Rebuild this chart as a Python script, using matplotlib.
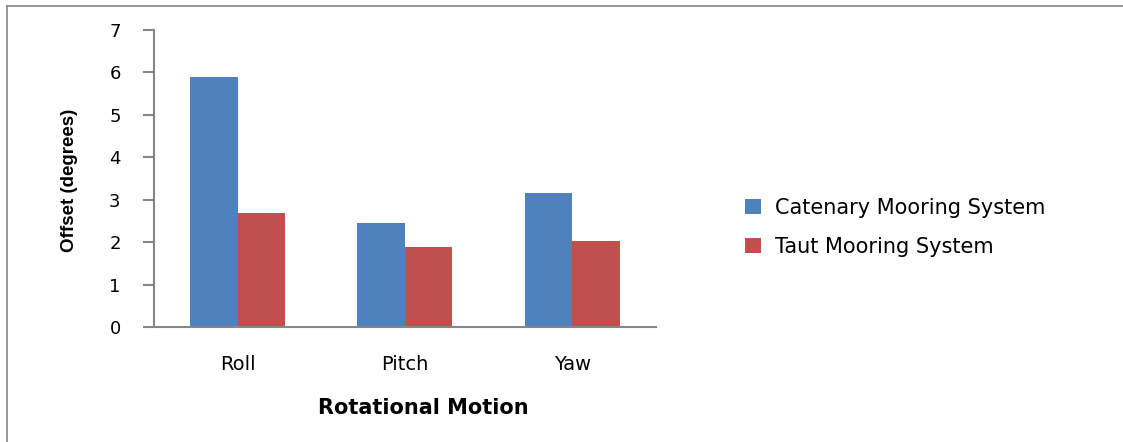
import numpy as np
import matplotlib.pyplot as plt
from matplotlib.lines import Line2D

# Offset values per rotational motion
motions = ['Roll', 'Pitch', 'Yaw']
catenary = [5.90, 2.45, 3.15]
taut = [2.69, 1.88, 2.03]
series_names = ['Catenary Mooring System', 'Taut Mooring System']

BLUE = '#4F81BD'
RED = '#C0504D'
GREY = '#868686'

fig = plt.figure(figsize=(11.23, 4.42), dpi=100)
ax = fig.add_axes([0.1371, 0.2602, 0.447, 0.672])

x = np.arange(len(motions))
w = 0.284
ax.bar(x - w / 2, catenary, w, color=BLUE, label=series_names[0])
ax.bar(x + w / 2, taut, w, color=RED, label=series_names[1])

ax.set_xlim(-0.5, 2.5)
ax.set_ylim(0, 7)
ax.set_yticks(range(0, 8))
ax.set_xticks(x)
ax.set_xticklabels(motions)

for side in ['top', 'right']:
    ax.spines[side].set_visible(False)
for side in ['left', 'bottom']:
    ax.spines[side].set_color(GREY)
    ax.spines[side].set_linewidth(1.5)

ax.tick_params(axis='y', direction='out', length=8, width=1.5, color=GREY,
               labelsize=13, pad=16)
ax.tick_params(axis='x', length=0, labelsize=14, pad=20)

ax.set_ylabel('Offset (degrees)', fontsize=13.5, fontweight='bold',
              family='Liberation Sans')
ax.yaxis.set_label_coords(-0.152, 0.495)
ax.set_xlabel('Rotational Motion', fontsize=15, fontweight='bold')
ax.xaxis.set_label_coords(0.536, -0.273)
ax.xaxis.label.set_va('center')

ax.legend(loc='center left', bbox_to_anchor=(1.14, 0.335), frameon=False,
          fontsize=15, handlelength=0.75, handleheight=0.75, labelspacing=0.9,
          handletextpad=0.7)

# outer frame (left and top edges)
fig.add_artist(Line2D([7 / 1123, 7 / 1123], [0, 1 - 6 / 442], transform=fig.transFigure,
                      color=GREY, lw=1.2))
fig.add_artist(Line2D([7 / 1123, 1], [1 - 6 / 442, 1 - 6 / 442], transform=fig.transFigure,
                      color=GREY, lw=1.2))

fig.savefig('out.png', dpi=100)
